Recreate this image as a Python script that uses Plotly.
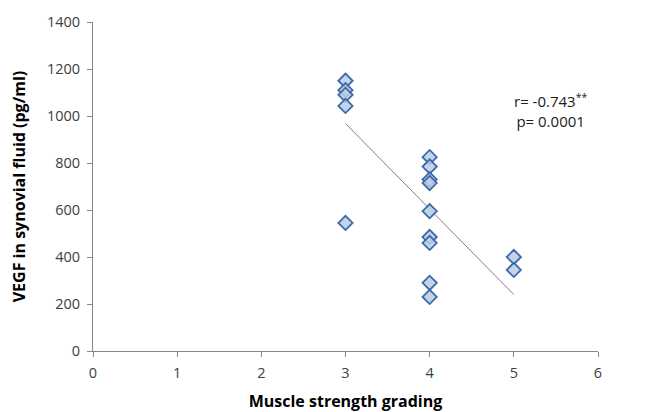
import plotly.graph_objects as go

grade = [3, 3, 3, 3, 3,
         4, 4, 4, 4, 4, 4, 4, 4, 4,
         5, 5]
vegf = [1150, 1110, 1090, 1043, 545,
        825, 785, 730, 715, 595, 485, 460, 290, 230,
        400, 345]
trend_x = [3, 5]
trend_y = [968, 240]

x_ticks = [0, 1, 2, 3, 4, 5, 6]
y_ticks = [0, 200, 400, 600, 800, 1000, 1200, 1400]

fig = go.Figure()
fig.add_trace(go.Scatter(
    x=trend_x, y=trend_y, mode="lines",
    line=dict(color="#808080", width=1), hoverinfo="skip", showlegend=False))
fig.add_trace(go.Scatter(
    x=grade, y=vegf, mode="markers",
    marker=dict(symbol="diamond", size=11, color="rgba(185,205,229,0.85)",
                line=dict(color="#3c6aa8", width=1.8)),
    showlegend=False))

axis_common = dict(showgrid=False, zeroline=False, showline=True,
                   linecolor="#868686", linewidth=1, ticks="outside",
                   ticklen=5, tickcolor="#868686", automargin=False,
                   tickfont=dict(family="Open Sans", size=14.5, color="#404040"))

fig.update_layout(
    width=642, height=404,
    margin=dict(l=85, r=52, t=14, b=61),
    paper_bgcolor="white", plot_bgcolor="white",
    xaxis=dict(range=[0, 6], tickvals=x_ticks, ticklabelstandoff=4,
               title=dict(text="Muscle strength grading", standoff=15,
                          font=dict(family="Open Sans", size=16, color="black", weight="bold")),
               **axis_common),
    yaxis=dict(range=[0, 1400], tickvals=y_ticks, ticklabelstandoff=4,
               title=dict(text="VEGF in synovial fluid (pg/ml)", standoff=20,
                          font=dict(family="Open Sans", size=16, color="black", weight="bold")),
               **axis_common),
    annotations=[dict(
        x=5.43, y=1025, xref="x", yref="y", showarrow=False,
        text="r= -0.743<sup>**</sup><br>p= 0.0001", align="center",
        font=dict(family="Open Sans", size=15, color="#202020"))],
)

fig.write_html("out.html")
